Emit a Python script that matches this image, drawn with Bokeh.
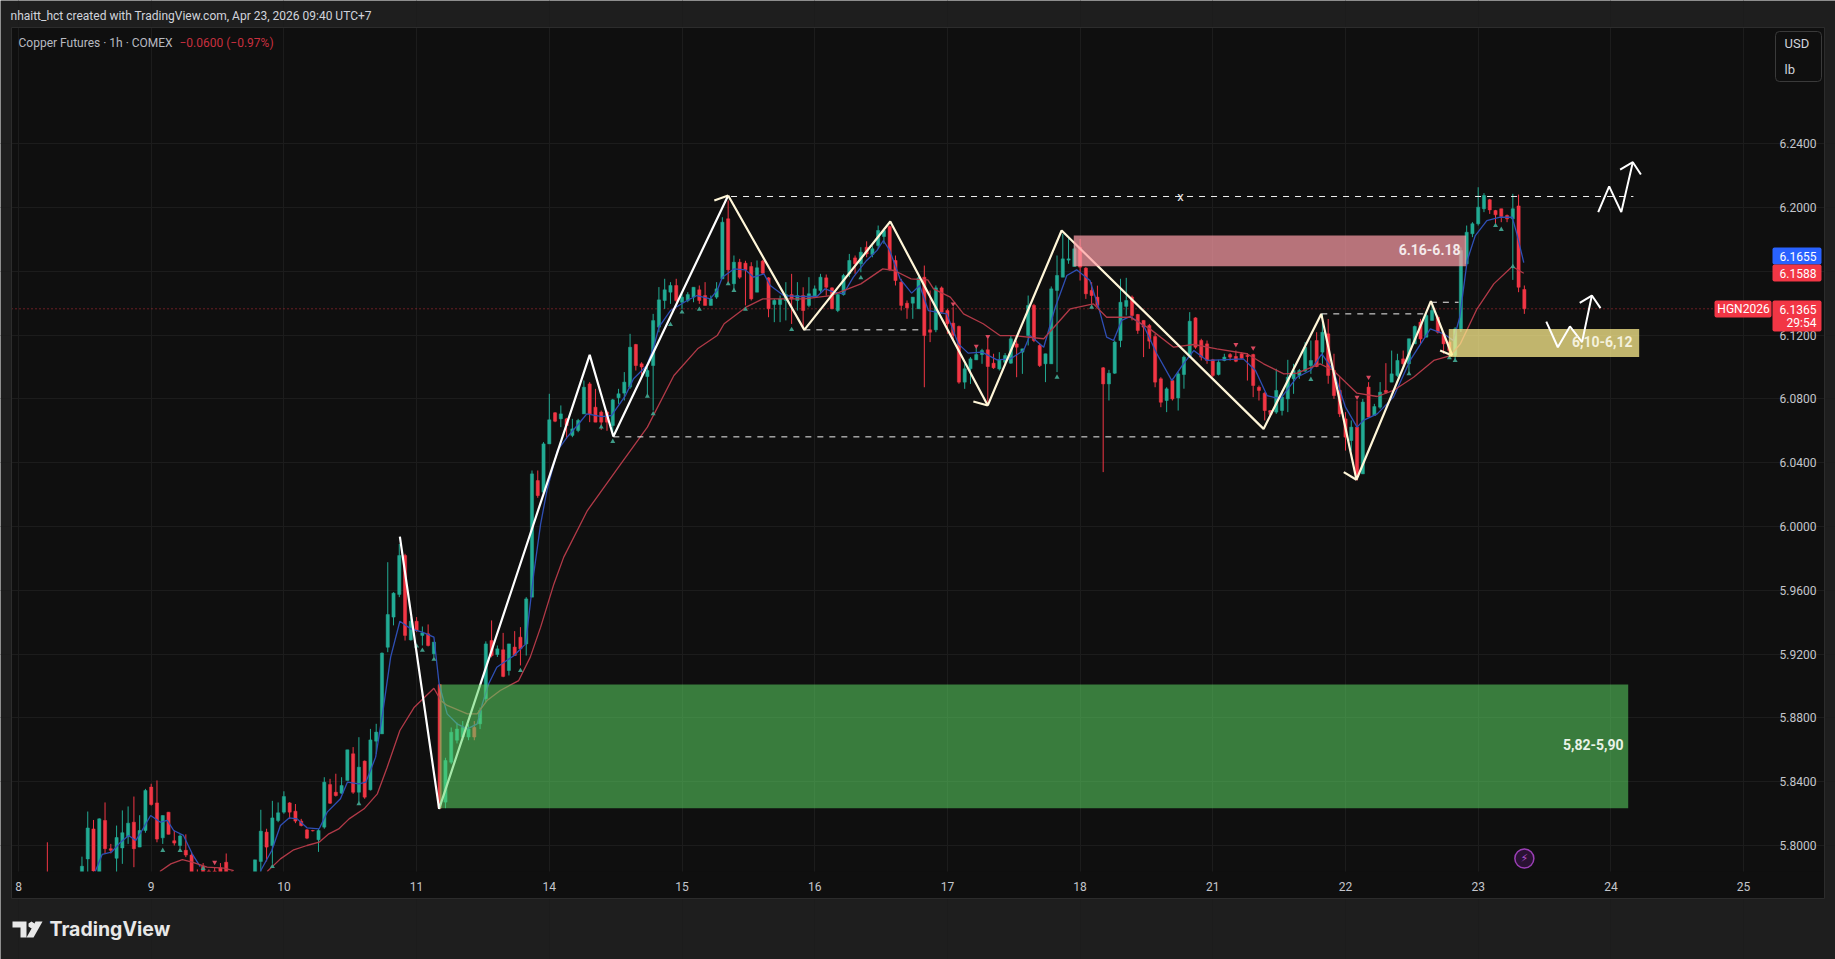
from bokeh.embed import file_html
from bokeh.resources import INLINE
from bokeh.plotting import figure
from bokeh.core.properties import value
from bokeh.models import (BoxAnnotation, ColumnDataSource, FixedTicker, Label,
                          NumeralTickFormatter, PolyAnnotation, Range1d)

# bar index of the first candle, one bar is one hour, 23 bars to a session
first_bar = 5
day_labels = ["8", "9", "10", "11", "14", "15", "16", "17", "18", "21", "22", "23", "24", "25"]
price_ticks = [5.80, 5.84, 5.88, 5.92, 5.96, 6.00, 6.04, 6.08, 6.12, 6.16, 6.20, 6.24]

opens = [5.78, 5.78, 5.775, 5.776, 5.772, 5.775, 5.778, 5.7916, 5.8104, 5.78,
         5.8157, 5.798, 5.792, 5.7985, 5.8055, 5.8146, 5.799, 5.8094, 5.8366, 5.8267,
         5.8048, 5.8209, 5.803, 5.8, 5.797, 5.794, 5.782, 5.787, 5.784, 5.784,
         5.786, 5.7895, 5.782, 5.77, 5.772, 5.775, 5.78, 5.79, 5.8084, 5.8,
         5.8157, 5.8209, 5.8267, 5.8215, 5.8153, 5.8098, 5.8094, 5.8036, 5.8115, 5.8382,
         5.8334, 5.8328, 5.8408, 5.8575, 5.8334, 5.8529, 5.8349, 5.8654, 5.87, 5.9243,
         5.9432, 5.9574, 5.9818, 5.9289, 5.9406, 5.9317, 5.9327, 5.9202, 5.9009, 5.8272,
         5.8522, 5.866, 5.868, 5.868, 5.874, 5.8763, 5.892, 5.9285, 5.9197, 5.9227,
         5.9097, 5.9244, 5.9306, 5.9264, 5.9557, 6.0288, 6.0215, 6.0518, 6.0713, 6.0675,
         6.0675, 6.0571, 6.0602, 6.0706, 6.0894, 6.0748, 6.0717, 6.0717, 6.0633, 6.0807,
         6.0836, 6.0874, 6.1141, 6.102, 6.094, 6.1009, 6.125, 6.1417, 6.1469, 6.1511,
         6.1406, 6.1417, 6.1438, 6.1484, 6.1448, 6.1386, 6.1438, 6.1553, 6.1929, 6.1522,
         6.1657, 6.1651, 6.163, 6.1469, 6.1664, 6.1559, 6.1392, 6.1392, 6.1417, 6.1454,
         6.1417, 6.1448, 6.1386, 6.1438, 6.148, 6.1559, 6.1496, 6.1354, 6.1454, 6.1584,
         6.1684, 6.1647, 6.1751, 6.1705, 6.1762, 6.1818, 6.1881, 6.1668, 6.1532, 6.14,
         6.14, 6.1365, 6.1563, 6.1233, 6.1233, 6.1496, 6.1354, 6.1275, 6.1254, 6.0905,
         6.0989, 6.1045, 6.1078, 6.1108, 6.1024, 6.0988, 6.103, 6.1024, 6.1145, 6.1093,
         6.1197, 6.1386, 6.1135, 6.102, 6.102, 6.148, 6.1563, 6.167, 6.163, 6.1751,
         6.162, 6.148, 6.1438, 6.0995, 6.0894, 6.0961, 6.1166, 6.138, 6.1438, 6.1329,
         6.1292, 6.126, 6.1191, 6.0926, 6.079, 6.0915, 6.0806, 6.0953, 6.1066, 6.1308,
         6.1166, 6.1145, 6.1045, 6.0953, 6.1041, 6.1078, 6.1066, 6.1083, 6.1072, 6.1078,
         6.0873, 6.0836, 6.0727, 6.0717, 6.0727, 6.08, 6.0926, 6.0947, 6.0974, 6.1009,
         6.1166, 6.1093, 6.1208, 6.0978, 6.0853, 6.0675, 6.0539, 6.0623, 6.033, 6.0874,
         6.0696, 6.0748, 6.0853, 6.0905, 6.0947, 6.1051, 6.102, 6.1145, 6.1281, 6.1187,
         6.1292, 6.1312, 6.1208, 6.1156, 6.1072, 6.1239, 6.1647, 6.1835, 6.1898, 6.1992,
         6.2048, 6.1981, 6.1992, 6.195, 6.1929, 6.201, 6.1486]
highs = [5.802, 5.782, 5.78, 5.78, 5.778, 5.78, 5.793, 5.8213, 5.816, 5.817,
         5.827, 5.801, 5.8125, 5.822, 5.8245, 5.8307, 5.819, 5.8355, 5.8387, 5.8408,
         5.8188, 5.8209, 5.8094, 5.807, 5.807, 5.796, 5.785, 5.789, 5.785, 5.786,
         5.789, 5.795, 5.784, 5.778, 5.778, 5.78, 5.791, 5.8224, 5.8105, 5.828,
         5.827, 5.834, 5.8272, 5.826, 5.8167, 5.8104, 5.8098, 5.8105, 5.8428, 5.8418,
         5.845, 5.8428, 5.86, 5.8617, 5.8679, 5.8533, 5.8731, 5.8763, 5.921, 5.9776,
         5.9588, 5.989, 5.9829, 5.9432, 5.9432, 5.9373, 5.9386, 5.9275, 5.9009, 5.855,
         5.874, 5.877, 5.878, 5.876, 5.878, 5.8865, 5.928, 5.9411, 5.9254, 5.9333,
         5.9264, 5.9344, 5.9369, 5.9557, 6.0351, 6.0351, 6.0529, 6.0832, 6.0717, 6.0759,
         6.0681, 6.0675, 6.0675, 6.0915, 6.0905, 6.0863, 6.0727, 6.0727, 6.08, 6.0863,
         6.0968, 6.1208, 6.1145, 6.103, 6.0999, 6.1333, 6.1501, 6.1553, 6.1532, 6.1553,
         6.1459, 6.1469, 6.15, 6.1511, 6.1532, 6.1448, 6.1532, 6.1939, 6.2044, 6.1699,
         6.1678, 6.1666, 6.1657, 6.1668, 6.1672, 6.1563, 6.1427, 6.1448, 6.1532, 6.1584,
         6.1532, 6.15, 6.1563, 6.1511, 6.1584, 6.158, 6.15, 6.1459, 6.1584, 6.1709,
         6.1699, 6.1751, 6.1788, 6.1762, 6.1887, 6.1866, 6.1887, 6.1699, 6.1553, 6.1417,
         6.1438, 6.1574, 6.1636, 6.148, 6.1511, 6.1505, 6.1365, 6.1375, 6.126, 6.102,
         6.1062, 6.1124, 6.1114, 6.1177, 6.1083, 6.1093, 6.1087, 6.1198, 6.1166, 6.1114,
         6.1448, 6.1396, 6.1145, 6.1083, 6.1505, 6.1699, 6.1835, 6.1814, 6.1772, 6.1803,
         6.1626, 6.1532, 6.151, 6.1, 6.0982, 6.1166, 6.1553, 6.1559, 6.1448, 6.1333,
         6.1292, 6.127, 6.1208, 6.0936, 6.0873, 6.0926, 6.0968, 6.1072, 6.1344, 6.1312,
         6.1177, 6.1166, 6.1051, 6.1045, 6.1083, 6.1087, 6.1103, 6.1093, 6.1087, 6.1083,
         6.0884, 6.0842, 6.0727, 6.0989, 6.0853, 6.1045, 6.102, 6.0988, 6.1156, 6.1166,
         6.1218, 6.1333, 6.1301, 6.1083, 6.0936, 6.0717, 6.0665, 6.079, 6.08, 6.0905,
         6.0769, 6.0905, 6.1024, 6.1103, 6.1083, 6.1103, 6.1177, 6.126, 6.1302, 6.1333,
         6.1385, 6.1323, 6.1218, 6.1166, 6.125, 6.175, 6.1887, 6.1908, 6.2127, 6.209,
         6.2054, 6.1985, 6.1992, 6.1956, 6.2086, 6.2081, 6.1511]
lows = [5.77, 5.77, 5.77, 5.77, 5.768, 5.77, 5.775, 5.78, 5.78, 5.78,
        5.795, 5.795, 5.783, 5.7885, 5.801, 5.7864, 5.799, 5.808, 5.825, 5.802,
        5.801, 5.807, 5.8, 5.7985, 5.7927, 5.775, 5.775, 5.78, 5.78, 5.78,
        5.782, 5.78, 5.775, 5.768, 5.768, 5.77, 5.775, 5.78, 5.79, 5.7885,
        5.8146, 5.8199, 5.8167, 5.814, 5.812, 5.804, 5.8088, 5.796, 5.8105, 5.8261,
        5.8307, 5.8324, 5.8408, 5.8324, 5.8272, 5.8293, 5.8345, 5.8575, 5.87, 5.9212,
        5.938, 5.9557, 5.9285, 5.9285, 5.9338, 5.9254, 5.9248, 5.918, 5.8234, 5.8234,
        5.851, 5.864, 5.866, 5.866, 5.866, 5.873, 5.89, 5.918, 5.9182, 5.9055,
        5.9066, 5.9191, 5.9129, 5.9191, 5.9557, 6.018, 6.0205, 6.0518, 6.0654, 6.0623,
        6.0549, 6.056, 6.0591, 6.0706, 6.0654, 6.0654, 6.0606, 6.06, 6.0581, 6.0769,
        6.079, 6.0863, 6.0978, 6.0936, 6.0811, 6.0727, 6.1218, 6.1364, 6.1396, 6.1406,
        6.1364, 6.1406, 6.1406, 6.1396, 6.1386, 6.1386, 6.1427, 6.1553, 6.1522, 6.148,
        6.1553, 6.1386, 6.1417, 6.1469, 6.1584, 6.1312, 6.1281, 6.1281, 6.1292, 6.127,
        6.1354, 6.125, 6.1375, 6.1438, 6.146, 6.1448, 6.1365, 6.1344, 6.1448, 6.1563,
        6.1584, 6.1594, 6.1688, 6.1688, 6.1741, 6.1772, 6.1605, 6.1511, 6.1354, 6.1302,
        6.1302, 6.1365, 6.0873, 6.1156, 6.1218, 6.1333, 6.1208, 6.1166, 6.0895, 6.0863,
        6.0894, 6.1045, 6.102, 6.0769, 6.0988, 6.0978, 6.1009, 6.102, 6.0936, 6.0957,
        6.1135, 6.1156, 6.1, 6.0905, 6.102, 6.0968, 6.1563, 6.1647, 6.163, 6.1542,
        6.1427, 6.1396, 6.1375, 6.0341, 6.079, 6.0957, 6.1124, 6.1323, 6.1292, 6.1208,
        6.1062, 6.1114, 6.0873, 6.0748, 6.0717, 6.079, 6.0727, 6.0864, 6.1062, 6.1114,
        6.1041, 6.102, 6.0936, 6.0947, 6.1036, 6.104, 6.103, 6.1051, 6.0915, 6.0811,
        6.079, 6.0665, 6.0696, 6.0706, 6.0696, 6.0717, 6.0832, 6.0926, 6.0968, 6.0957,
        6.0999, 6.102, 6.0895, 6.08, 6.0686, 6.0476, 6.0476, 6.0288, 6.033, 6.0686,
        6.0696, 6.0738, 6.0832, 6.0905, 6.0936, 6.1, 6.0957, 6.1145, 6.1145, 6.1187,
        6.129, 6.121, 6.1083, 6.105, 6.104, 6.122, 6.1637, 6.1814, 6.1887, 6.1971,
        6.196, 6.1898, 6.1908, 6.1908, 6.1546, 6.1469, 6.1333]
closes = [5.775, 5.775, 5.776, 5.772, 5.775, 5.778, 5.787, 5.811, 5.784, 5.8167,
          5.798, 5.797, 5.805, 5.808, 5.814, 5.798, 5.8094, 5.8345, 5.8257, 5.804,
          5.8188, 5.807, 5.8015, 5.806, 5.794, 5.78, 5.779, 5.782, 5.782, 5.783,
          5.783, 5.782, 5.781, 5.772, 5.775, 5.778, 5.791, 5.809, 5.799, 5.8173,
          5.8205, 5.8307, 5.8209, 5.8153, 5.8125, 5.8046, 5.8092, 5.8094, 5.8397, 5.8265,
          5.8313, 5.8376, 5.86, 5.8334, 5.8491, 5.8303, 5.8662, 5.8711, 5.9206, 5.9448,
          5.9582, 5.9818, 5.9317, 5.9406, 5.9348, 5.9333, 5.9254, 5.9275, 5.8234, 5.8533,
          5.871, 5.873, 5.874, 5.873, 5.868, 5.8846, 5.9264, 5.9191, 5.9233, 5.906,
          5.9264, 5.9191, 5.9233, 5.9546, 6.033, 6.0194, 6.0518, 6.0669, 6.066, 6.0706,
          6.0633, 6.0612, 6.0665, 6.0873, 6.0706, 6.0654, 6.0654, 6.0654, 6.0794, 6.0832,
          6.0905, 6.1124, 6.1009, 6.1, 6.0978, 6.1291, 6.1421, 6.1484, 6.1511, 6.1417,
          6.1438, 6.1454, 6.15, 6.1417, 6.1386, 6.1427, 6.149, 6.1908, 6.1609, 6.1657,
          6.1563, 6.1609, 6.1427, 6.1622, 6.1588, 6.1365, 6.1417, 6.1427, 6.1454, 6.1427,
          6.1448, 6.1354, 6.1459, 6.149, 6.1563, 6.15, 6.1365, 6.1454, 6.1574, 6.1668,
          6.1647, 6.172, 6.1709, 6.1741, 6.1856, 6.1856, 6.1609, 6.1542, 6.1386, 6.1371,
          6.1438, 6.1559, 6.1197, 6.1218, 6.1496, 6.1344, 6.1271, 6.1198, 6.0905, 6.0989,
          6.1051, 6.1078, 6.1103, 6.1003, 6.0995, 6.1045, 6.1072, 6.1177, 6.1124, 6.1114,
          6.1386, 6.1166, 6.1009, 6.1083, 6.149, 6.1574, 6.1678, 6.1678, 6.1741, 6.1626,
          6.1459, 6.1448, 6.1386, 6.0894, 6.0961, 6.1156, 6.1406, 6.1417, 6.1323, 6.1229,
          6.125, 6.1162, 6.0905, 6.0779, 6.0863, 6.08, 6.0957, 6.1062, 6.1287, 6.1124,
          6.1062, 6.1041, 6.0947, 6.103, 6.1062, 6.1062, 6.1036, 6.1055, 6.1066, 6.0884,
          6.0853, 6.0727, 6.0702, 6.0853, 6.0811, 6.0936, 6.0978, 6.0978, 6.1124, 6.1041,
          6.1003, 6.1218, 6.0947, 6.0821, 6.0706, 6.056, 6.0623, 6.032, 6.078, 6.0686,
          6.0752, 6.0842, 6.084, 6.0957, 6.1041, 6.102, 6.1177, 6.1254, 6.1176, 6.1323,
          6.1354, 6.1218, 6.1145, 6.1103, 6.1239, 6.173, 6.1845, 6.1898, 6.2002, 6.2075,
          6.1985, 6.1954, 6.1944, 6.1929, 6.1992, 6.15, 6.1365]

# fast average, two stretches because it dips under the pane on the left
blue_bars = [13.3, 14.5, 16.1, 17.7, 19.1, 20.3, 21.4, 22.9, 24.6, 25.8, 26.9, 28.6, 30.1, 31.5]
blue_vals = [5.7837, 5.7944, 5.7958, 5.8021, 5.8063, 5.8031, 5.8094, 5.8188, 5.8146, 5.8157,
             5.8094, 5.8063, 5.7948, 5.7868]
blue2_bars = [41.9, 43.9, 45.4, 46.9, 48.3, 50, 52.1, 53.5, 55.8, 57, 59, 60.2, 61.9, 63.1, 64.5, 66.1,
              68, 70, 72, 72.9, 74.3, 76, 77.8, 79.5, 80.4, 81.5, 82.9, 85.9, 87.9, 88.5, 89.3, 90.5,
              91.6, 93.4, 95.1, 97.1, 98.5, 101.1, 102.8, 105.2, 106.6, 108.9, 110.1, 111, 113, 115.9,
              117.6, 119.9, 121.1, 122, 124, 126, 127.4, 129.2, 130.3, 132.6, 135.5, 138.4, 139.8,
              141.3, 143, 144.7, 147, 148.8, 149.9, 151, 152.8, 154.8, 156.2, 157.7, 160.9, 162.9,
              164.6, 167, 169.6, 171.9, 174.2, 175.3, 177.7, 179.7, 181.7, 183.4, 185.7, 187.2, 188.6,
              189.8, 191.2, 192.7, 195, 197.3, 199.9, 201.9, 203.7, 206, 208.3, 212.3, 214.4, 216.4,
              218.7, 221.6, 223.9, 225.9, 227.9, 230, 232, 233.1, 235.5, 238.3, 241.2, 244.7, 247,
              248.7, 249.8, 251.1, 252.5, 254.5, 256.8, 258.9, 259.7, 260.9]
blue2_vals = [5.7837, 5.7969, 5.8125, 5.8173, 5.8167, 5.8111, 5.8104, 5.8209, 5.8293, 5.8397, 5.8387,
              5.8397, 5.8554, 5.8825, 5.9181, 5.9406, 5.9358, 5.9338, 5.9306, 5.9014, 5.8825, 5.8763,
              5.8731, 5.8763, 5.8888, 5.9014, 5.9118, 5.9191, 5.9264, 5.9452, 5.9703, 6.0017, 6.0226,
              6.0476, 6.056, 6.0644, 6.0706, 6.0689, 6.0696, 6.0821, 6.0926, 6.1009, 6.1124, 6.125,
              6.1354, 6.1417, 6.1448, 6.1427, 6.148, 6.1563, 6.1615, 6.1609, 6.1563, 6.1584, 6.1511,
              6.1448, 6.1442, 6.1442, 6.149, 6.1469, 6.1459, 6.1563, 6.1668, 6.1731, 6.1793, 6.1731,
              6.1553, 6.1463, 6.1511, 6.1354, 6.1333, 6.1145, 6.1087, 6.1093, 6.1045, 6.1051, 6.1103,
              6.1197, 6.1124, 6.1375, 6.1574, 6.1609, 6.1542, 6.1375, 6.1187, 6.1166, 6.1292, 6.1317,
              6.126, 6.1083, 6.0915, 6.102, 6.1103, 6.1041, 6.1045, 6.1051, 6.0978, 6.0821, 6.08,
              6.0936, 6.0978, 6.1083, 6.0978, 6.0748, 6.0623, 6.0665, 6.0706, 6.0811, 6.1041, 6.1239,
              6.1208, 6.1166, 6.1312, 6.1668, 6.1824, 6.1918, 6.1939, 6.1939, 6.1835, 6.1655]
# slow average
red_bars = [24.5, 26.4, 28.4, 30.1, 32.7, 35.6, 37.3]
red_vals = [5.7837, 5.7885, 5.7912, 5.7896, 5.7864, 5.7858, 5.7843]
red2_bars = [43.1, 45.4, 47.7, 50, 52.1, 53.8, 55.5, 57.3, 59.9, 62.2, 63.9, 66.1, 68.6, 72, 73.2, 74.3,
             77.8, 79.5, 81.2, 83.5, 86.7, 88.7, 90.5, 92.8, 94.5, 98.6, 104.4, 109, 113.6, 117.7,
             121.1, 122.3, 126.1, 129, 132.4, 136.2, 140.8, 146, 149.8, 151.8, 154.7, 157.6, 158.6,
             161.5, 163.8, 167.2, 170.1, 172.5, 177.7, 180, 182.3, 186.3, 188.6, 192.7, 196.1, 200.2,
             203.7, 207.7, 212.9, 215.8, 219.3, 221.6, 225.6, 227.9, 232, 235.5, 238.3, 241.8, 245.3,
             248.2, 249.9, 252.8, 255.7, 258.9, 260.9]
red2_vals = [5.7837, 5.7916, 5.7973, 5.8, 5.8021, 5.8073, 5.8104, 5.8167, 5.823, 5.8324, 5.8491, 5.8721,
             5.8867, 5.8986, 5.8909, 5.8878, 5.8825, 5.8825, 5.8909, 5.8972, 5.9034, 5.9181, 5.9369,
             5.964, 5.9808, 6.01, 6.0393, 6.0623, 6.0947, 6.1114, 6.1197, 6.1271, 6.1375, 6.1427,
             6.1427, 6.1427, 6.1448, 6.1521, 6.1615, 6.1605, 6.1553, 6.1546, 6.149, 6.1438, 6.1333,
             6.1271, 6.1197, 6.1197, 6.1177, 6.1271, 6.1365, 6.1396, 6.1312, 6.1312, 6.1239, 6.1124,
             6.1141, 6.1114, 6.1083, 6.102, 6.0957, 6.0961, 6.102, 6.0978, 6.0836, 6.0815, 6.0853,
             6.0936, 6.1041, 6.1072, 6.1145, 6.1365, 6.1521, 6.163, 6.1588]

up_signal_bars = [25, 28, 32, 44, 59, 69, 70, 72, 87, 101, 103, 109, 110, 113, 115, 118, 123, 124, 126,
                  134, 146, 180, 186, 224, 241, 248, 249, 256, 257, 259]
up_signal_vals = [5.7969, 5.7969, 5.7855, 5.7868, 5.8261, 5.925, 5.9223, 5.9167, 5.9097, 6.0623, 6.0533,
                  6.0817, 6.0706, 6.1266, 6.1344, 6.1361, 6.1521, 6.148, 6.1361, 6.1235, 6.1559, 6.0936,
                  6.1375, 6.0922, 6.0957, 6.1057, 6.104, 6.1887, 6.1862, 6.163]
down_signal_bars = [34, 162, 166, 168, 211, 214, 217, 232, 234]
down_signal_vals = [5.7895, 6.1396, 6.1131, 6.1191, 6.1141, 6.112, 6.0717, 6.0811, 6.0936]

# hand drawn zigzag
zig1_bars = [66.1, 72.9, 99, 103.1, 123]
zig1_vals = [5.9937, 5.823, 6.1076, 6.0564, 6.2075]
zig2_bars = [123, 136.2, 151.1, 168, 180.8, 215.8, 225.8, 231.9, 244.8, 248.5]
zig2_vals = [6.2075, 6.1233, 6.1912, 6.0759, 6.1856, 6.0612, 6.1333, 6.0293, 6.1413, 6.1072]
tick_bars = [[120.6, 123], [165.5, 168], [229.7, 231.9], [246.4, 248.5]]
tick_vals = [[6.2044, 6.2075], [6.0784, 6.0759], [6.0341, 6.0293], [6.1103, 6.1072]]

# projected moves on the right
move1_bars = [273.8, 275.7, 277.8, 279.8]
move1_vals = [6.1971, 6.2132, 6.1971, 6.2284]
head1_bars = [277.6, 279.8, 281.2]
head1_vals = [6.2238, 6.2284, 6.2207]
move2_bars = [264.8, 266.8, 268.9, 271, 272.7]
move2_vals = [6.1285, 6.1124, 6.1254, 6.1156, 6.1448]
head2_bars = [270.6, 272.7, 274.2]
head2_vals = [6.1402, 6.1448, 6.1369]

# horizontal dashed levels: from bar, to bar, price
level_from = [123.5, 136.2, 103.1, 225.8, 244.8]
level_to = [279.9, 156.7, 229.7, 243.5, 249.6]
level_price = [6.2069, 6.1233, 6.0562, 6.1333, 6.1406]

# zones
zone_left = [182.9, 247.9, 73]
zone_right = [250.9, 280.9, 279]
zone_top = [6.1824, 6.1239, 5.9009]
zone_bottom = [6.1632, 6.1062, 5.8234]
zone_color = ["#ff9ea8", "#feee8e", "#5cd764"]
zone_alpha = [0.7, 0.75, 0.55]

last_price = 6.1365
blue_tag = 6.1655
red_tag = 6.1588

BG = "#1e1e1e"
PANE = "#0f0f0f"
GRID = "#1c1c1c"
TEXT = "#c4c6cc"
UP = "#22ab94"
DOWN = "#f23645"
FONT = "Roboto"

# pixel layout of the page
bar_w = 132.7 / 23
x0_px = 18
p58_px = 845
px_per_price = 1595


def xd(px):
    return (px - x0_px) / bar_w


def yd(py):
    return 5.8 + (p58_px - py) / px_per_price


# the frame takes the whole page, annotations get clipped to it otherwise
p = figure(width=1835, height=959, output_backend="svg", toolbar_location=None,
           x_range=Range1d(xd(0), xd(1835)), y_range=Range1d(yd(959), yd(0)),
           y_axis_location="right",
           min_border_left=0, min_border_right=0, min_border_top=0, min_border_bottom=0)
p.background_fill_color = BG
p.border_fill_color = BG
p.outline_line_color = None

day_ticks = [i * 23 for i in range(len(day_labels))]
p.xaxis.ticker = FixedTicker(ticks=day_ticks)
p.xaxis.major_label_overrides = dict(zip(day_ticks, day_labels))
p.xaxis.fixed_location = yd(871)
p.yaxis.ticker = FixedTicker(ticks=price_ticks)
p.yaxis.formatter = NumeralTickFormatter(format="0.0000")
p.yaxis.fixed_location = xd(1770)
for ax in [p.xaxis, p.yaxis]:
    ax.axis_line_color = None
    ax.major_tick_line_color = None
    ax.minor_tick_line_color = None
    ax.major_label_text_color = TEXT
    ax.major_label_text_font = FONT
    ax.major_label_text_font_size = "12px"
p.xaxis.major_label_standoff = 4
p.yaxis.major_label_standoff = 3
p.xgrid.ticker = FixedTicker(ticks=day_ticks)
p.ygrid.ticker = FixedTicker(ticks=price_ticks)
p.xgrid.grid_line_color = GRID
p.ygrid.grid_line_color = GRID
p.xgrid.bounds = (yd(871), yd(27))
p.ygrid.bounds = (xd(11), xd(1770))


def box(left, right, top, bottom, fill=None, line=None, level="annotation", radius=0):
    p.add_layout(BoxAnnotation(left=left, right=right, top=top, bottom=bottom,
                               left_units="canvas", right_units="canvas",
                               top_units="canvas", bottom_units="canvas",
                               fill_color=fill, fill_alpha=1 if fill else 0, line_color=line,
                               line_alpha=1, level=level, border_radius=radius))


def label(px, py, text, color=TEXT, size="12px", align="left", style="normal", font=FONT):
    p.add_layout(Label(x=px, y=py, x_units="canvas", y_units="canvas", text=text, text_color=color,
                       text_font=font, text_font_size=size, text_align=align, text_baseline="middle",
                       text_font_style=style))


def poly(xs, ys, color):
    p.add_layout(PolyAnnotation(xs=xs, ys=ys, xs_units="canvas", ys_units="canvas", fill_color=color,
                                fill_alpha=1, line_color=None))


# pane under the grid, its outline on top
box(11, 1824, 27, 898, PANE, level="image")
box(11, 1824, 27, 898, None, "#2c2c2c")

bars = list(range(first_bar, first_bar + len(closes)))
colors = [UP if c >= o else DOWN for o, c in zip(opens, closes)]
src = ColumnDataSource(dict(x=bars, o=opens, h=highs, l=lows, c=closes, color=colors))

# last price line, stops at the symbol tag
p.segment(x0=[xd(11)], y0=[last_price], x1=[xd(1714)], y1=[last_price], line_color=DOWN, line_dash="1 3",
          line_alpha=0.8, line_width=1)

p.segment(x0="x", y0="l", x1="x", y1="h", color="color", line_width=1, source=src)
p.vbar(x="x", bottom="o", top="c", width=0.55, fill_color="color", line_color="color",
       line_width=0.5, source=src)

p.line(blue_bars, blue_vals, line_color="#2f4fb5", line_width=1.3)
p.line(blue2_bars, blue2_vals, line_color="#2f4fb5", line_width=1.3)
p.line(red_bars, red_vals, line_color="#b23a48", line_width=1.3)
p.line(red2_bars, red2_vals, line_color="#b23a48", line_width=1.3)

p.scatter(up_signal_bars, up_signal_vals, marker="triangle", size=5, fill_color="#3f9c88", line_color=None)
p.scatter(down_signal_bars, down_signal_vals, marker="inverted_triangle", size=5, fill_color="#d9485f",
          line_color=None)

# the pane stops the candles at the time scale
p.quad(left=[xd(11)], right=[xd(1824)], top=[yd(871)], bottom=[yd(898)], fill_color=PANE, line_color=None)

# levels
p.segment(x0=level_from, y0=level_price, x1=level_to, y1=level_price, line_color="#f0f0f0",
          line_width=1, line_dash="6 6")
p.text([201.4], [6.2069], text=["x"], text_color="#e8e8e8", text_font=value(FONT), text_font_size="13px",
       text_align="center", text_baseline="middle")

# zigzag
p.line(zig1_bars, zig1_vals, line_color="#ffffff", line_width=2.2)
p.line(zig2_bars, zig2_vals, line_color="#fff6d8", line_width=2.2)
p.multi_line(tick_bars, tick_vals, line_color="#fff6d8", line_width=2.2)

# zones sit over the candles
p.quad(left=zone_left, right=zone_right, top=zone_top, bottom=zone_bottom, fill_color=zone_color,
       fill_alpha=zone_alpha, line_color=None)

p.line(move1_bars, move1_vals, line_color="#ffffff", line_width=2)
p.line(head1_bars, head1_vals, line_color="#ffffff", line_width=2)
p.line(move2_bars, move2_vals, line_color="#ffffff", line_width=2)
p.line(head2_bars, head2_vals, line_color="#ffffff", line_width=2)

# zone captions
p.text([xd(1460)], [yd(249)], text=["6.16-6.18"], text_color="#f4eaea", text_font=value(FONT),
       text_font_style="bold", text_font_size="14px", text_align="right", text_baseline="middle")
p.text([xd(1632)], [yd(341)], text=["6,10-6,12"], text_color="#f4f1dc", text_font=value(FONT),
       text_font_style="bold", text_font_size="14px", text_align="right", text_baseline="middle")
p.text([xd(1623)], [yd(744)], text=["5,82-5,90"], text_color="#eaf3e8", text_font=value(FONT),
       text_font_style="bold", text_font_size="14px", text_align="right", text_baseline="middle")

# session break icon
p.scatter([261], [yd(858)], marker="circle", size=19, fill_color="#2a1233", line_color="#9b3fb5", line_width=1.5)
p.text([261], [yd(858)], text=["\u26a1"], text_color="#b04fd0", text_font=value("DejaVu Sans"),
       text_font_size="11px", text_align="center", text_baseline="middle")

label(10, 15, "nhaitt_hct created with TradingView.com, Apr 23, 2026 09:40 UTC+7", "#d1d4dc", "12px")
label(18, 42, "Copper Futures \u00b7 1h \u00b7 COMEX", "#b8bac0", "12px")
label(179, 42, "\u22120.0600 (\u22120.97%)", "#c8303f", "12px")

box(1775, 1821, 31, 81, PANE, "#3a3a3a", radius=4)
label(1784, 43, "USD", "#d1d4dc", "13px")
label(1784, 69, "lb", "#d1d4dc", "13px")

box(1772, 1821, 247, 264, "#2962ff", radius=2)
box(1772, 1821, 264, 281, DOWN, radius=2)
box(1714, 1771, 300, 317, DOWN, radius=2)
box(1772, 1821, 300, 331, DOWN, radius=2)
label(1816, 255.5, "%.4f" % blue_tag, "#ffffff", "12px", "right")
label(1816, 272.5, "%.4f" % red_tag, "#ffffff", "12px", "right")
label(1743, 308.5, "HGN2026", "#ffffff", "12px", "center")
label(1816, 308.5, "%.4f" % last_price, "#ffffff", "12px", "right")
label(1816, 322.5, "29:54", "#ffffff", "12px", "right")

# footer logo
tv_color = "#e8e8e8"
poly([12, 26, 26, 20, 20, 12], [921, 921, 937, 937, 927, 927], tv_color)
poly([28, 31, 34, 34, 31, 28], [923, 921, 923, 926, 928, 926], tv_color)
poly([35, 42, 33, 26], [921, 921, 937, 937], tv_color)
label(49, 928, "TradingView", tv_color, "19.5px", "left", "bold", "Inter")

open("out.html", "w").write(file_html(p, INLINE))
